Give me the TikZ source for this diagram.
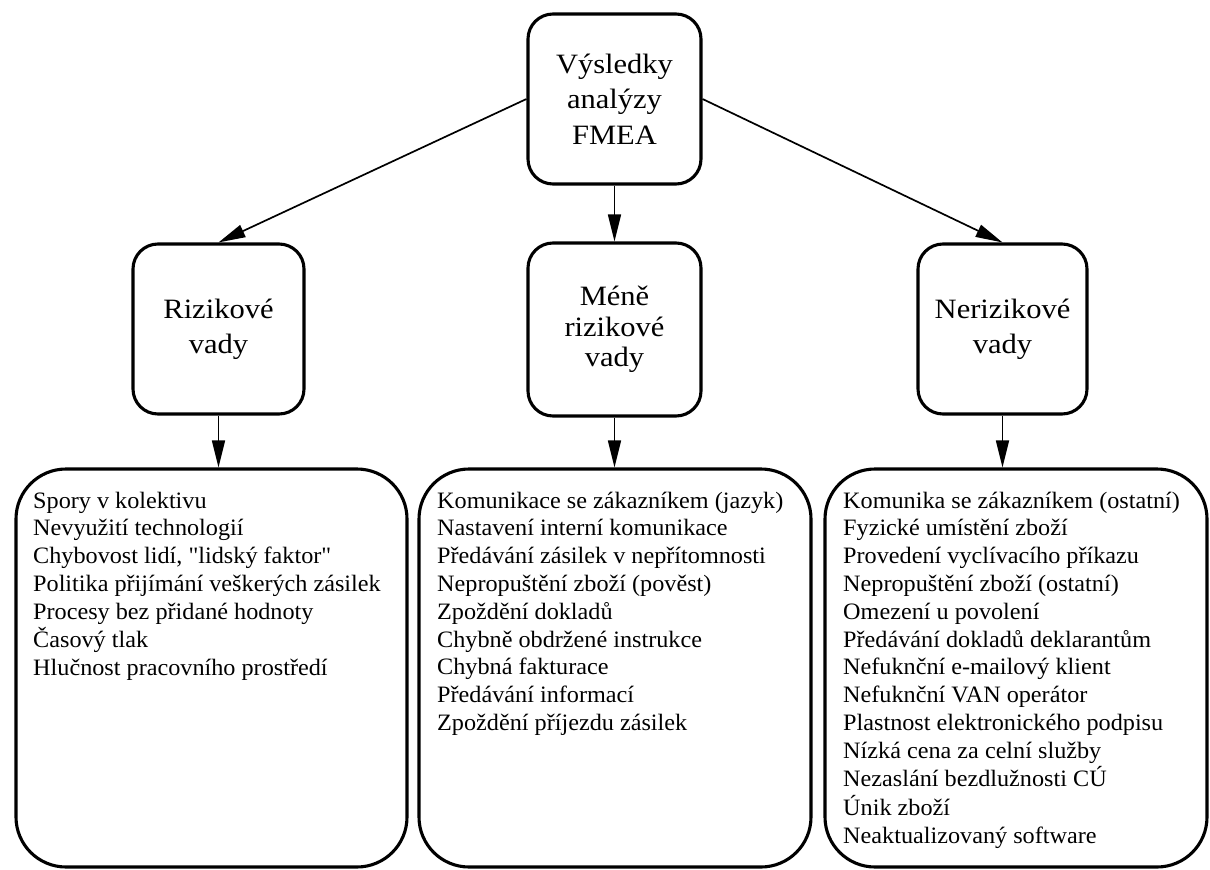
\documentclass[tikz,border=0pt]{standalone}
\usepackage{fontspec}
\setmainfont[FakeStretch=1.09,Ligatures=TeXOff]{Liberation Serif}
\newfontfamily\listfont[FakeStretch=1.03,Ligatures=TeXOff]{Liberation Serif}
\usetikzlibrary{arrows.meta}
\begin{document}
\begin{tikzpicture}[x=1pt,y=-1pt,
  box/.style={draw, line width=3.1pt, rounded corners=25pt, align=center, inner sep=0pt},
  bigfont/.style={font=\fontsize{28}{35.5}\selectfont},
  listbox/.style={draw, line width=3.1pt, rounded corners=50pt, inner sep=0pt},
  listtext/.style={anchor=base west, inner sep=0pt, font=\listfont\fontsize{23.5}{27.8}\selectfont},
  conn/.style={line width=1.7pt, -{Triangle[length=27pt,width=13pt]}}]
\useasboundingbox (0,0) rectangle (1210,870);
% top level
\node[box, bigfont, minimum width=173pt, minimum height=170pt] (top) at (614.5,99) {Výsledky\\analýzy\\FMEA};
% second level
\node[box, font=\fontsize{28}{35}\selectfont, minimum width=171pt, minimum height=170pt] (left) at (218.5,329) {Rizikové\\vady};
\node[box, font=\fontsize{28}{30.5}\selectfont, minimum width=173pt, minimum height=173pt] (mid) at (614.5,329.5) {Méně\\rizikové\\vady};
\node[box, font=\fontsize{28}{35}\selectfont, minimum width=169pt, minimum height=170pt] (right) at (1002.5,329) {Nerizikové\\vady};
% list boxes
\node[listbox, minimum width=391pt, minimum height=398pt] (bl) at (211.5,668) {};
\node[listbox, minimum width=392pt, minimum height=398pt] (bm) at (615,668) {};
\node[listbox, minimum width=382pt, minimum height=398pt] (br) at (1016,668) {};
% list texts
\node[listtext] (blt) at (33,508) {\begin{tabular}[t]{@{}l@{}}
Spory v kolektivu\\
Nevyužití technologií\\
Chybovost lidí, "lidský faktor"\\
Politika přijímání veškerých zásilek\\
Procesy bez přidané hodnoty\\
Časový tlak\\
Hlučnost pracovního prostředí
\end{tabular}};
\node[listtext] (bmt) at (437,508) {\begin{tabular}[t]{@{}l@{}}
Komunikace se zákazníkem (jazyk)\\
Nastavení interní komunikace\\
Předávání zásilek v nepřítomnosti\\
Nepropuštění zboží (pověst)\\
Zpoždění dokladů\\
Chybně obdržené instrukce\\
Chybná fakturace\\
Předávání informací\\
Zpoždění příjezdu zásilek
\end{tabular}};
\node[listtext] (brt) at (843,508) {\begin{tabular}[t]{@{}l@{}}
Komunika se zákazníkem (ostatní)\\
Fyzické umístění zboží\\
Provedení vyclívacího příkazu\\
Nepropuštění zboží (ostatní)\\
Omezení u povolení\\
Předávání dokladů deklarantům\\
Nefuknční e-mailový klient\\
Nefuknční VAN operátor\\
Plastnost elektronického podpisu\\
Nízká cena za celní služby\\
Nezaslání bezdlužnosti CÚ\\
Únik zboží\\
Neaktualizovaný software
\end{tabular}};
% connectors
\draw[conn] (top.west) -- (left.north);
\draw[conn] (top.south) -- (mid.north);
\draw[conn] (top.east) -- (right.north);
\draw[conn] (left.south) -- (left.south |- bl.north);
\draw[conn] (mid.south) -- (mid.south |- bm.north);
\draw[conn] (right.south) -- (right.south |- br.north);
\end{tikzpicture}
\end{document}
